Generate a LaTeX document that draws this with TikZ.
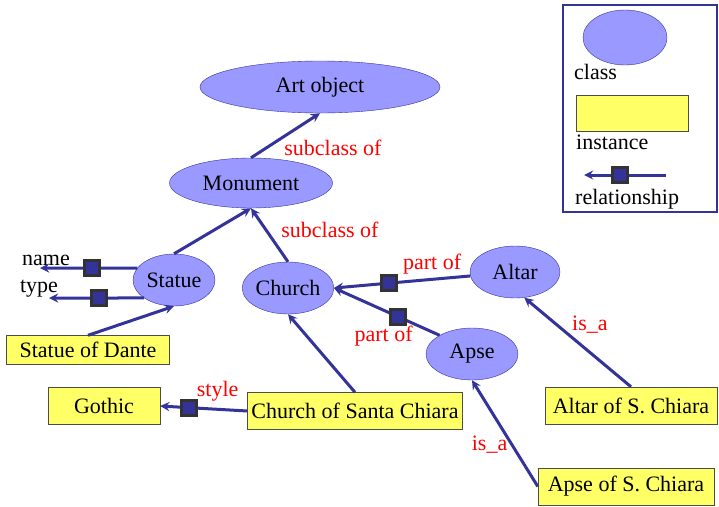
\documentclass[tikz,border=0pt]{standalone}
\usepackage{fontspec}
\setmainfont{Liberation Serif}
\usetikzlibrary{shapes.geometric, arrows}
\definecolor{classfill}{RGB}{153,153,255}
\definecolor{reldark}{RGB}{51,51,153}
\definecolor{instfill}{RGB}{255,255,102}
\tikzstyle{classnode} = [ellipse, draw=reldark, fill=classfill, inner sep=0pt, font=\fontsize{22}{26}\selectfont]
\tikzstyle{instnode} = [rectangle, draw=black!70, fill=instfill, minimum height=37pt, inner sep=2pt, font=\fontsize{22}{26}\selectfont]
\tikzstyle{arrow} = [line width=3pt, draw=reldark, ->, >=stealth]
\tikzstyle{relbox} = [rectangle, draw=black!80, fill=reldark, minimum size=15pt, inner sep=0pt]
\tikzstyle{rellabel} = [text=red, font=\fontsize{22}{26}\selectfont]
\tikzstyle{plaintext} = [inner sep=0pt, font=\fontsize{22}{26}\selectfont]

\begin{document}
\begin{tikzpicture}[x=1pt, y=1pt, node distance=80pt]
  \useasboundingbox (0,0) rectangle (719,-506);

  \node (art) [classnode, minimum width=240pt, minimum height=52pt] at (320,-87) {Art object};
  \node (monument) [classnode, minimum width=163pt, minimum height=50pt, below of=art, xshift=-69pt, yshift=-16pt] {Monument};
  \node (statue) [classnode, minimum width=82pt, minimum height=52pt, below of=monument, xshift=-77pt, yshift=-17pt] {Statue};
  \node (church) [classnode, minimum width=88pt, minimum height=52pt, below of=monument, xshift=37pt, yshift=-25pt] {Church};
  \node (altar) [classnode, minimum width=90pt, minimum height=52pt, right of=church, xshift=147pt, yshift=16pt] {Altar};
  \node (apse) [classnode, minimum width=92pt, minimum height=52pt, below of=altar, xshift=-43pt, yshift=-2pt] {Apse};
  \node (dante) [instnode, minimum width=163pt, minimum height=29pt, below of=statue, xshift=-86pt, yshift=10pt] {Statue of Dante};
  \node (santachiara) [instnode, minimum width=215pt, below of=church, xshift=67pt, yshift=-43pt] {Church of Santa Chiara};
  \node (gothic) [instnode, minimum width=112pt, left of=santachiara, xshift=-171pt, yshift=5pt] {Gothic};
  \node (altarsc) [instnode, minimum width=172pt, below of=altar, xshift=116pt, yshift=-53.5pt] {Altar of S. Chiara};
  \node (apsesc) [instnode, minimum width=176pt, below of=apse, xshift=154pt, yshift=-52.5pt] {Apse of S. Chiara};

  \coordinate (nameend) at (40,-268);
  \coordinate (typeend) at (49,-298);
  \node (namelbl) [plaintext, anchor=base] at (46,-265) {name};
  \node (typelbl) [plaintext, anchor=base] at (39,-292) {type};

  \draw [arrow] (monument.north) -- node[rellabel, anchor=north west, xshift=-6pt] {subclass of} (art.south);
  \draw [arrow] (statue.north) -- (monument.south);
  \draw [arrow] (church.north) -- node[rellabel, anchor=west, xshift=7pt, yshift=5pt] {subclass of} (monument.south);
  \draw [arrow] (altar) -- node[relbox, pos=0.6] {} node[rellabel, pos=0.28, anchor=south] {part of} (church.east);
  \draw [arrow] (apse.150) -- node[relbox, pos=0.39] {} node[rellabel, pos=0.53, anchor=north, yshift=-11pt] {part of} (church.east);
  \draw [arrow] (statue.162) -- node[relbox, pos=0.47] {} (nameend);
  \draw [arrow] (statue.211) -- node[relbox, pos=0.47] {} (typeend);
  \draw [arrow] (dante.north) -- (statue.south);
  \draw [arrow] (santachiara.north) -- (church.south);
  \draw [arrow] (santachiara.west) -- node[relbox, pos=0.67] {} node[rellabel, pos=0.34, anchor=south, yshift=3pt] {style} (gothic.east);
  \draw [arrow] (altarsc.north) -- node[rellabel, pos=0.7, anchor=west, xshift=11pt] {is\_a} (altar.290);
  \draw [arrow] (apsesc.west) -- node[rellabel, pos=0.39, anchor=east] {is\_a} (apse.south);

  % legend
  \node (legend) [rectangle, draw=reldark, line width=1.5pt, minimum width=154pt, minimum height=207pt] at (640,-108.5) {};
  \node (legclass) [classnode, minimum width=84pt, minimum height=55pt] at (625,-37.5) {};
  \node (legclasstxt) [plaintext, anchor=base west] at (574,-79) {class};
  \node (leginst) [instnode, minimum width=112pt, minimum height=36pt] at (632,-113) {};
  \node (leginsttxt) [plaintext, anchor=base west] at (576,-149) {instance};
  \coordinate (legfrom) at (666,-175);
  \coordinate (legto) at (584,-175);
  \draw [arrow] (legfrom) -- node[relbox, pos=0.56] {} (legto);
  \node (legreltxt) [plaintext, anchor=base west] at (575,-204) {relationship};

\end{tikzpicture}
\end{document}
